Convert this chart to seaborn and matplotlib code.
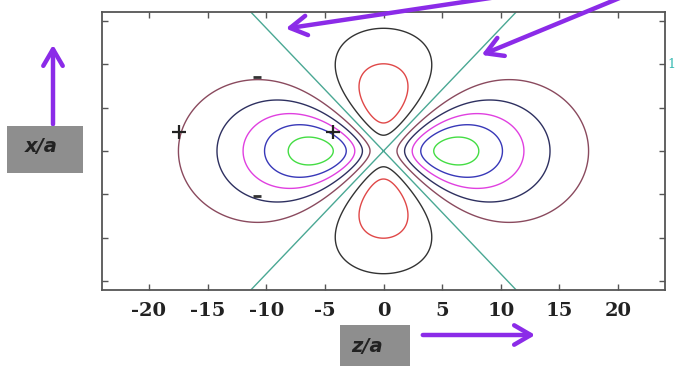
import numpy as np
import matplotlib
matplotlib.use("Agg")
import matplotlib.pyplot as plt
import seaborn as sns
from matplotlib.patches import FancyArrowPatch, Rectangle

# contour levels of the 3d_z2 orbital (psi ~ (2z^2 - x^2) exp(-r/3a))
pos_levels = [1.8, 3.55, 5.3, 7.0, 8.8]
pos_colors = ['#8a4a5e', '#2e3060', '#e040e0', '#3838b8', '#44dd44']
neg_levels = [-3.55, -1.8]
neg_colors = ['#e04848', '#333333']
zero_color = '#4aa894'

xticks = [-20, -15, -10, -5, 0, 5, 10, 15, 20]
xticklabels = ['-20', '-15', '-10', '-5', '0', '5', '10', '15', '20']
yticks = [-15, -10, -5, 0, 5, 10, 15]

plus_z = [-17.4, -4.3]
plus_x = [2.2, 2.2]
dash_z = [-10.8, -10.8]
dash_x = [8.5, -5.2]

sns.set_style("white")
plt.rcParams['font.family'] = ['DejaVu Serif']

# grid for the wavefunction
z = np.linspace(-24, 24, 961)
x = np.linspace(-16, 16, 641)
Z, X = np.meshgrid(z, x)
R = np.sqrt(Z**2 + X**2)
psi = (2 * Z**2 - X**2) * np.exp(-R / 3.0)

fig = plt.figure(figsize=(6.75, 3.66), dpi=100)
ax = fig.add_axes([102 / 675, 1 - 290 / 366, 563 / 675, 278 / 366])

ax.contour(Z, X, psi, levels=neg_levels, colors=neg_colors, linewidths=1.0)
ax.contour(Z, X, psi, levels=[0], colors=[zero_color], linewidths=1.0)
ax.contour(Z, X, psi, levels=pos_levels, colors=pos_colors, linewidths=1.0)

ax.plot(plus_z, plus_x, '+', color='#222222', ms=10, mew=1.6)
ax.plot(dash_z, dash_x, '_', color='#333333', ms=6, mew=2)

ax.set_xlim(-24, 24)
ax.set_ylim(-16, 16)
ax.set_xticks(xticks)
ax.set_xticklabels(xticklabels, fontsize=14, fontweight='bold', color='#222222')
ax.set_yticks(yticks)
ax.set_yticklabels([])
ax.tick_params(direction='in', length=4, width=1, color='#555555',
               top=True, right=True, bottom=True, left=True, pad=9)
for s in ax.spines.values():
    s.set_color('#555555')
    s.set_linewidth(1.3)

# annotations in figure pixel coordinates
def fp(px, py):
    return (px / 675, 1 - py / 366)

purple = '#8b2be8'
arrows = [((53, 127), (53, 42)),
          ((497, -3), (283, 29)),
          ((622, -3), (479, 56)),
          ((420, 335), (538, 335))]
for a, b in arrows:
    fig.add_artist(FancyArrowPatch(fp(*a), fp(*b), transform=fig.transFigure,
                                   arrowstyle='->,head_length=0.6,head_width=0.35',
                                   mutation_scale=20, lw=3.2, color=purple))

fig.add_artist(Rectangle(fp(7, 173), 76 / 675, 47 / 366, transform=fig.transFigure,
                         facecolor='#8e8e8e', edgecolor='none'))
fig.add_artist(Rectangle(fp(340, 370), 70 / 675, 45 / 366, transform=fig.transFigure,
                         facecolor='#8e8e8e', edgecolor='none'))
fig.text(*fp(41, 146), 'x/a', ha='center', va='center', fontsize=14,
         fontstyle='italic', fontweight='bold', color='#222222', family=['DejaVu Sans'])
fig.text(*fp(367, 346), 'z/a', ha='center', va='center', fontsize=14,
         fontstyle='italic', fontweight='bold', color='#222222', family=['DejaVu Sans'])
fig.text(*fp(667, 64), '1', ha='left', va='center', fontsize=9, color='#30b8b0')

fig.savefig('out.png', dpi=100)
